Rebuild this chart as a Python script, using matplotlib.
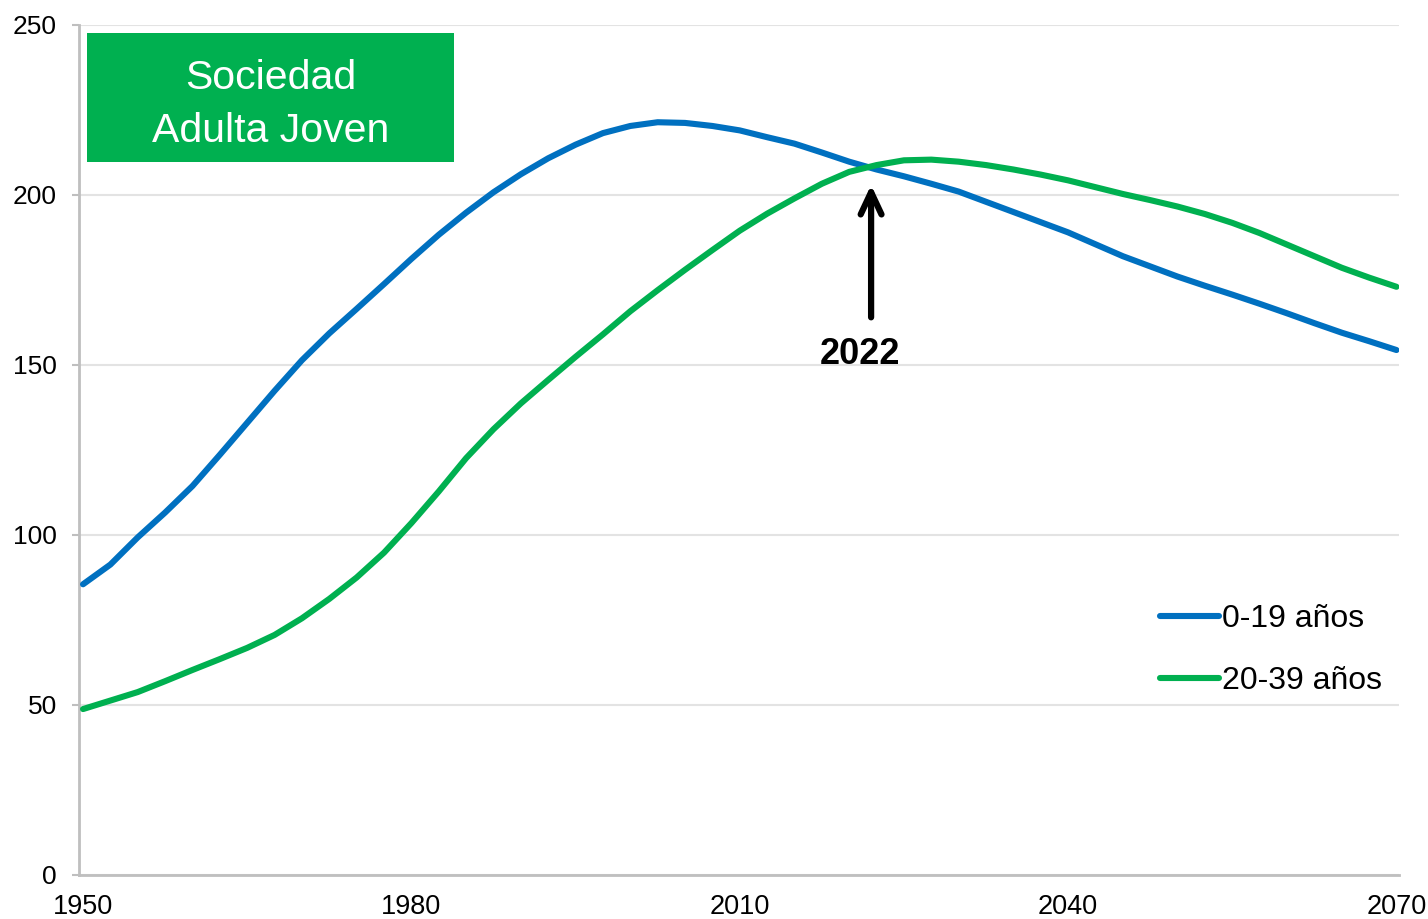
import matplotlib
matplotlib.use("Agg")
import matplotlib.pyplot as plt
from matplotlib.patches import Rectangle

plt.rcParams['font.family'] = ['Liberation Sans', 'DejaVu Sans']

years = [1950 + 2.5 * i for i in range(49)]

# 0-19 años
young = [85.5, 91.3, 99.3, 106.6, 114.4, 123.6, 133.0, 142.4, 151.4, 159.3,
         166.5, 173.8, 181.2, 188.3, 194.8, 200.8, 206.1, 210.8, 214.8, 218.2,
         220.3, 221.4, 221.2, 220.3, 219.0, 217.0, 215.1, 212.5, 209.8, 207.5,
         205.5, 203.3, 201.0, 198.0, 195.0, 192.0, 189.0, 185.5, 182.0, 179.0,
         176.0, 173.3, 170.7, 168.0, 165.2, 162.3, 159.5, 157.0, 154.4]

# 20-39 años
adult = [48.8, 51.3, 53.8, 57.0, 60.3, 63.5, 66.8, 70.6, 75.5, 81.2,
         87.5, 94.8, 103.5, 112.8, 122.6, 131.1, 138.7, 145.6, 152.4, 159.0,
         165.8, 172.0, 178.0, 183.8, 189.5, 194.5, 199.0, 203.3, 206.8, 208.8,
         210.2, 210.4, 209.8, 208.8, 207.5, 206.0, 204.3, 202.3, 200.3, 198.5,
         196.6, 194.4, 191.8, 188.8, 185.4, 182.0, 178.6, 175.7, 173.0]

xticks = [1950, 1980, 2010, 2040, 2070]
yticks = [0, 50, 100, 150, 200, 250]
cross_year = 2022

blue = '#0070C0'
green = '#00B050'
grey = '#BFBFBF'

fig = plt.figure(figsize=(14.28, 9.19), dpi=100)
ax = fig.add_axes([0.0553, 0.0479, 0.9247, 0.9249])

ax.plot(years, young, color=blue, lw=4.4, solid_capstyle='round',
        solid_joinstyle='round', label='0-19 años', zorder=3)
ax.plot(years, adult, color=green, lw=4.4, solid_capstyle='round',
        solid_joinstyle='round', label='20-39 años', zorder=3)

ax.set_xlim(1949.63, 2070.27)
ax.set_ylim(0, 250)
ax.set_xticks(xticks)
ax.set_yticks(yticks)
ax.tick_params(axis='x', length=0, pad=14, labelsize=19.5)
ax.tick_params(axis='y', length=5, width=1.5, color=grey, pad=11, labelsize=19)

ax.grid(axis='y', color='#E3E3E3', lw=1.5, zorder=0)
for s in ['top', 'right']:
    ax.spines[s].set_visible(False)
for s in ['left', 'bottom']:
    ax.spines[s].set_color(grey)
    ax.spines[s].set_linewidth(2)

# title box
ax.add_patch(Rectangle((0.006, 0.839), 0.278, 0.152, transform=ax.transAxes,
                       facecolor=green, edgecolor='none', zorder=4))
ax.text(0.145, 0.906, 'Sociedad\nAdulta Joven', transform=ax.transAxes,
        ha='center', va='center', color='white', fontsize=29.5, linespacing=1.5, zorder=5)

# arrow to crossing point
ax.annotate('', xy=(cross_year, 203.8), xytext=(cross_year, 163.2),
            arrowprops=dict(arrowstyle='->,head_length=1.6,head_width=0.75',
                            color='black', lw=4.5), zorder=5)
ax.text(cross_year - 1.0, 153, str(cross_year), ha='center', va='center',
        fontsize=26, fontweight='bold')

leg = ax.legend(loc='center left', bbox_to_anchor=(0.797, 0.265), frameon=False,
                fontsize=23, handlelength=1.85, handletextpad=0.1, labelspacing=1.0)

fig.savefig('out.png', dpi=100)
